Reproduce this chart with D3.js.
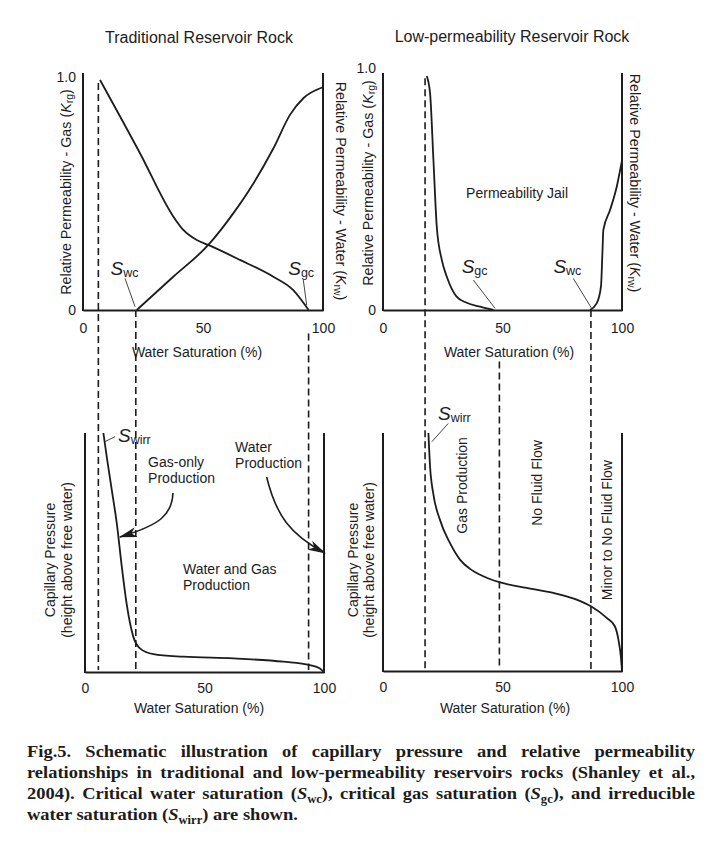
<!DOCTYPE html>
<html><head><meta charset="utf-8">
<script src="https://cdn.jsdelivr.net/npm/d3@7"></script>
<style>
html,body{margin:0;padding:0;background:#fff;}
svg{display:block;}
</style></head><body>
<script>
// ---------------- data ----------------
const satTicks = [0, 50, 100];
const krTicks = [0, 1];
const krTickLabels = ["0", "1.0"];

// [water saturation %, value]
const tradKrg = [[7.1,0.983],[23.75,0.67],[37.6,0.40],[41.8,0.342],[47.4,0.299],[52.2,0.278],[65.4,0.214],[79.3,0.142],[87.6,0.085],[94,0.0]];
const tradKrw = [[22.4,0.0],[37.6,0.142],[52.2,0.278],[62.6,0.413],[71,0.541],[79.3,0.69],[86.3,0.835],[91.8,0.905],[99.9,0.952]];
const lowKrg  = [[18.3,1.0],[19.7,0.926],[21.1,0.641],[22.5,0.356],[24.6,0.214],[26.7,0.142],[30.8,0.057],[35,0.031],[40.6,0.014],[46.2,0.0]];
const lowKrw  = [[86.6,0.0],[89.4,0.028],[91.2,0.1],[91.8,0.242],[92.2,0.342],[95,0.427],[97.8,0.527],[99.9,0.634]];
const tradPc  = [[7.7,1.0],[9.1,0.9],[11.2,0.762],[13.3,0.622],[15.4,0.44],[17.4,0.287],[20.2,0.148],[23,0.099],[28.6,0.075],[41.1,0.064],[62,0.057],[83,0.043],[94.1,0.029],[98.3,0.015],[100,0.0]];
const lowPc   = [[19,1.0],[19.7,0.858],[21,0.747],[23.8,0.636],[28,0.538],[32.2,0.468],[36.4,0.429],[42,0.398],[48.7,0.373],[60.1,0.349],[74.1,0.321],[81,0.3],[87,0.272],[93.6,0.223],[97,0.188],[98.5,0.132],[99.5,0.062],[100,0.0]];

// dashed saturation markers: [saturation %, start value on top-panel scale]
const tradMarkers = [[6.4,0.97],[22,0.0],[94,-0.1]];
const lowMarkers  = [[17.6,0.99],[48.7,-0.22],[87,0.0]];

// annotation arrows (bezier control points in panel data units)
const gasArrow   = [[36.8,0.749],[36.4,0.657],[31.4,0.615],[14.6,0.565]];
const waterArrow = [[76.0,0.816],[79.9,0.657],[85.8,0.573],[100.4,0.498]];

// ---------------- setup ----------------
const SANS = "'Liberation Sans', Arial, Helvetica, sans-serif";
const SERIF = "'Liberation Serif', 'Times New Roman', serif";
const INK = "#1c1c1c";
const W = 721, H = 842;
const svg = d3.select("body").append("svg").attr("width", W).attr("height", H);
svg.append("rect").attr("width", W).attr("height", H).attr("fill", "#fff");

const defs = svg.append("defs");
defs.append("marker").attr("id", "ah").attr("markerUnits", "userSpaceOnUse")
  .attr("viewBox", "0 0 18 10").attr("refX", 17).attr("refY", 5)
  .attr("markerWidth", 18).attr("markerHeight", 10).attr("orient", "auto")
  .append("path").attr("d", "M0,0 L18,5 L0,10 L5,5 Z").attr("fill", INK);

function panel(xr, yr) {
  return { xs: d3.scaleLinear().domain([0, 100]).range(xr),
           ys: d3.scaleLinear().domain([0, 1]).range(yr) };
}
const TL = panel([83, 323], [310, 76]);
const TR = panel([383, 622], [310, 76]);
const BL = panel([85, 324], [672, 433]);
const BR = panel([383, 622], [671, 433]);

function richText(parent, x, y, parts, o) {
  o = o || {};
  const t = parent.append("text").attr("x", x).attr("y", y)
    .attr("font-family", o.family || SANS).attr("font-size", o.size || 14)
    .attr("text-anchor", o.anchor || "start").attr("fill", INK);
  if (o.weight) t.attr("font-weight", o.weight);
  if (o.baseline) t.attr("dominant-baseline", o.baseline);
  if (o.rotate) t.attr("transform", `rotate(${o.rotate},${x},${y})`);
  let shift = 0;
  parts.forEach(p => {
    const s = t.append("tspan").text(p.t);
    const target = p.sub ? (o.subDy || 3) : 0;
    if (target !== shift) { s.attr("dy", target - shift); shift = target; }
    if (p.sub) s.attr("font-size", o.subSize || 10);
    else if (p.size) s.attr("font-size", p.size);
    if (p.it) s.attr("font-style", "italic");
  });
  return t;
}

function frame(p, yTicks, pad, topY, topLabelShift) {
  const g = svg.append("g").attr("color", INK);
  const x0 = p.xs(0), x1 = p.xs(100), yb = p.ys(0);
  const bx = g.append("g").attr("transform", `translate(0,${yb})`)
    .call(d3.axisBottom(p.xs).tickValues(satTicks).tickSize(0).tickSizeOuter(0).tickPadding(pad));
  bx.select(".domain").attr("stroke-width", 2);
  bx.selectAll("text").attr("font-size", 14).attr("font-family", SANS);
  const ly = g.append("g").attr("transform", `translate(${x0},0)`)
    .call(d3.axisLeft(p.ys).tickValues(yTicks).tickFormat((d) => krTickLabels[krTicks.indexOf(d)]).tickSize(0).tickSizeOuter(0).tickPadding(7));
  ly.select(".domain").remove();
  ly.selectAll("text").attr("font-size", 14).attr("font-family", SANS)
    .attr("transform", d => d === 1 ? `translate(0,${topLabelShift || 0})` : null);
  [x0, x1].forEach(x => g.append("line").attr("x1", x).attr("x2", x)
      .attr("y1", yb + 1).attr("y2", topY).attr("stroke", INK).attr("stroke-width", 2));
}
frame(TL, krTicks, 13, 73, 1);
frame(TR, krTicks, 13, 73, -8);
frame(BL, [], 11, 433);
frame(BR, [], 11, 433);

// dashed markers spanning top to bottom panels
function markers(list, top, bottom) {
  list.forEach(([s, v]) => {
    const x = top.xs(s);
    svg.append("line").attr("x1", x).attr("x2", x)
      .attr("y1", top.ys(v)).attr("y2", bottom.ys(0) - 2)
      .attr("stroke", INK).attr("stroke-width", 1.6).attr("stroke-dasharray", "7,4");
  });
}
markers(tradMarkers, TL, BL);
markers(lowMarkers, TR, BR);

// curves
function curve(p, data) {
  const line = d3.line().x(d => p.xs(d[0])).y(d => p.ys(d[1])).curve(d3.curveMonotoneX);
  svg.append("path").attr("d", line(data)).attr("fill", "none")
    .attr("stroke", INK).attr("stroke-width", 1.8).attr("stroke-linejoin", "round");
}
curve(TL, tradKrg); curve(TL, tradKrw);
curve(TR, lowKrg); curve(TR, lowKrw);
curve(BL, tradPc); curve(BR, lowPc);

// leader lines
function leader(p, a, b) {
  svg.append("line").attr("x1", p.xs(a[0])).attr("y1", p.ys(a[1]))
    .attr("x2", p.xs(b[0])).attr("y2", p.ys(b[1]))
    .attr("stroke", "#444").attr("stroke-width", 1);
}
function sLabel(p, s, v, sub) {
  richText(svg, p.xs(s), p.ys(v), [{t: "S", it: 1}, {t: sub, sub: 1}], {size: 19, subSize: 12.5, subDy: 2});
}
sLabel(TL, 11.5, 0.15, "wc");  leader(TL, [17.5, 0.135], [21.7, 0.014]);
sLabel(TL, 85.5, 0.15, "gc");  leader(TL, [91.8, 0.128], [93.2, 0.021]);
sLabel(TR, 32.9, 0.157, "gc"); leader(TR, [37.8, 0.128], [46.9, 0.007]);
sLabel(TR, 71.3, 0.157, "wc"); leader(TR, [79.6, 0.135], [87.3, 0.007]);
sLabel(BL, 13.8, 0.962, "wirr"); leader(BL, [8.4, 0.964], [12.6, 0.985]);
sLabel(BR, 23, 1.055, "wirr");   leader(BR, [20.4, 0.963], [27.3, 1.04]);

// titles
richText(svg, 199, 43, [{t: "Traditional Reservoir Rock"}], {size: 16, anchor: "middle"});
richText(svg, 512, 42, [{t: "Low-permeability Reservoir Rock"}], {size: 16, anchor: "middle"});

// x axis titles
[[197, 357], [509, 357], [199, 713], [505, 713]].forEach(([x, y]) =>
  richText(svg, x, y, [{t: "Water Saturation (%)"}], {size: 14, anchor: "middle"}));

// y axis titles (relative permeability)
const krgParts = [{t: "Relative Permeability - Gas ("}, {t: "K", it: 1}, {t: "rg", sub: 1}, {t: ")"}];
const krwParts = [{t: "Relative Permeability - Water ("}, {t: "K", it: 1}, {t: "rw", sub: 1}, {t: ")"}];
richText(svg, 66, 192, krgParts, {size: 14.3, anchor: "middle", baseline: "central", rotate: -90, subSize: 10.5});
richText(svg, 368, 183, krgParts, {size: 14.3, anchor: "middle", baseline: "central", rotate: -90, subSize: 10.5});
richText(svg, 341, 191, krwParts, {size: 14.3, anchor: "middle", baseline: "central", rotate: 90, subSize: 10.5});
richText(svg, 635, 183, krwParts, {size: 14.3, anchor: "middle", baseline: "central", rotate: 90, subSize: 10.5});

// capillary pressure titles
[[50, 67, 560], [353, 369, 560]].forEach(([xa, xb, y]) => {
  richText(svg, xa, y, [{t: "Capillary Pressure"}], {size: 14, anchor: "middle", baseline: "central", rotate: -90});
  richText(svg, xb, y, [{t: "(height above free water)"}], {size: 14, anchor: "middle", baseline: "central", rotate: -90});
});

// region annotations
richText(svg, TR.xs(56.1), TR.ys(0.5), [{t: "Permeability Jail"}], {size: 14, anchor: "middle", baseline: "central"});
function block(p, s, v, lines) {
  const x = p.xs(s), y = p.ys(v);
  lines.forEach((l, i) => richText(svg, x, y + i * 15.5, [{t: l}], {size: 14}));
}
block(BL, 26.4, 0.857, ["Gas-only", "Production"]);
block(BL, 62.8, 0.920, ["Water", "Production"]);
block(BL, 41.0, 0.410, ["Water and Gas", "Production"]);
[[33.1, 0.78, "Gas Production"], [64.4, 0.79, "No Fluid Flow"], [93.7, 0.592, "Minor to No Fluid Flow"]]
  .forEach(([s, v, t]) => richText(svg, BR.xs(s), BR.ys(v), [{t}], {size: 14, anchor: "middle", baseline: "central", rotate: -90}));

// arrows
function arrow(p, pts) {
  const q = pts.map(d => [p.xs(d[0]), p.ys(d[1])]);
  const path = d3.path();
  path.moveTo(q[0][0], q[0][1]);
  path.bezierCurveTo(q[1][0], q[1][1], q[2][0], q[2][1], q[3][0], q[3][1]);
  svg.append("path").attr("d", path.toString()).attr("fill", "none")
    .attr("stroke", INK).attr("stroke-width", 1.6).attr("marker-end", "url(#ah)");
}
arrow(BL, gasArrow);
arrow(BL, waterArrow);

// caption
const captionLines = [
  [{t: "Fig.5. Schematic illustration of capillary pressure and relative permeability"}],
  [{t: "relationships in traditional and low-permeability reservoirs  rocks (Shanley et al.,"}],
  [{t: "2004). Critical water saturation ("}, {t: "S", it: 1}, {t: "wc", sub: 1}, {t: "), critical gas saturation ("}, {t: "S", it: 1}, {t: "gc", sub: 1}, {t: "), and irreducible"}],
  [{t: "water saturation ("}, {t: "S", it: 1}, {t: "wirr", sub: 1}, {t: ") are shown."}]
];
const capBase = [757, 778, 799, 820];
const capG = svg.append("g");
const capTexts = captionLines.map((parts, i) =>
  richText(capG, 0, capBase[i], parts, {family: SERIF, size: 17.6, weight: "bold", subSize: 12, subDy: 4}));
const w4 = capTexts[3].node().getComputedTextLength();
let sx = 271 / w4; sx = Math.max(0.8, Math.min(1.05, sx));
capG.attr("transform", `translate(27,0) scale(${sx},1)`);
const target = 668 / sx;
capTexts.slice(0, 3).forEach((t, i) => {
  const nat = t.node().getComputedTextLength();
  const str = captionLines[i].map(p => p.t).join("").replace(/\s+/g, " ").trim();
  const n = str.split(" ").length - 1;
  const ws = (target - nat) / n;
  if (ws >= 0) t.style("word-spacing", ws + "px");
  else t.attr("textLength", target).attr("lengthAdjust", "spacingAndGlyphs");
});
</script>
</body></html>
